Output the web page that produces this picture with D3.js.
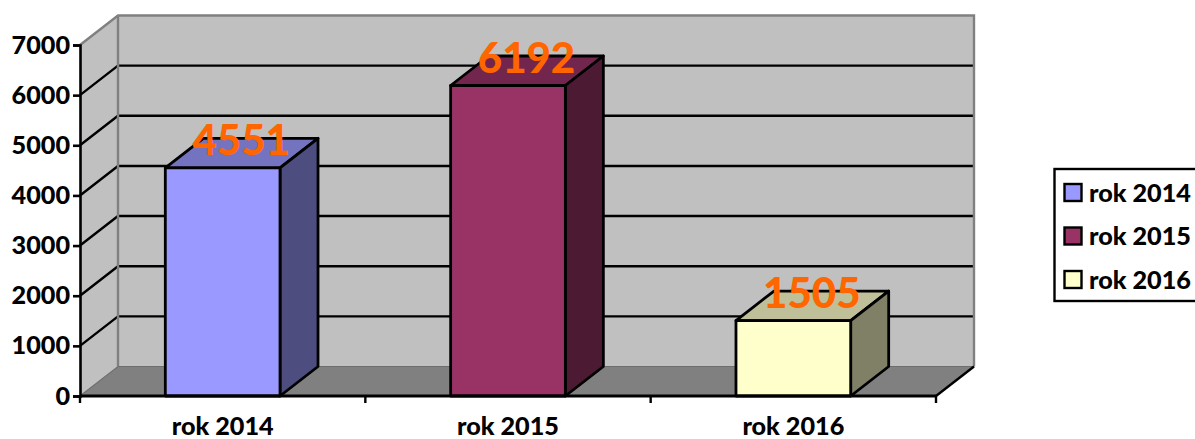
<!DOCTYPE html>
<html><head><meta charset="utf-8">
<script src="https://cdn.jsdelivr.net/npm/d3@7"></script>
<style>html,body{margin:0;padding:0;background:#fff;overflow:hidden}svg{display:block}text{font-family:Lato,sans-serif;font-weight:900}</style>
</head><body>
<svg id="c" width="1195" height="439"></svg>
<script>
const categories = ["rok 2014","rok 2015","rok 2016"];
const values = [4551,6192,1505];
const tickValues = [0,1000,2000,3000,4000,5000,6000,7000];
const faceColors = ["#9999ff","#993366","#ffffcc"];
const topColors = ["#7373bf","#73264d","#bfbf99"];
const sideColors = ["#4d4d80","#4d1a33","#808066"];

const svg = d3.select("#c");
const L=80,R=936,B=396,T=45,dx=38,dy=-29.5;
const x = d3.scaleBand().domain(categories).range([L,R]).paddingInner(0.598).paddingOuter(0.299);
const y = d3.scaleLinear().domain([0,7000]).range([B,T]);
const poly = pts => pts.map(p=>p.join(",")).join(" ");
const FS = 25.2;

// walls and floor
svg.append("polygon").attr("points",poly([[L,B],[L+dx,B+dy],[L+dx,T+dy],[L,T]])).attr("fill","#c0c0c0");
svg.append("polygon").attr("points",poly([[L+dx,B+dy],[R+dx,B+dy],[R+dx,T+dy],[L+dx,T+dy]])).attr("fill","#c0c0c0");
svg.append("polygon").attr("points",poly([[L,B],[R,B],[R+dx,B+dy],[L+dx,B+dy]])).attr("fill","#808080");

// gridlines
const grid = svg.append("g");
tickValues.slice(1,-1).forEach(v=>{
  grid.append("polyline").attr("points",poly([[L,y(v)],[L+dx,y(v)+dy],[R+dx,y(v)+dy]]))
    .attr("fill","none").attr("stroke","#000").attr("stroke-width",2.4);
});
// wall outline
svg.append("polyline").attr("points",poly([[L,T],[L+dx,T+dy],[R+dx,T+dy],[R+dx,B+dy]]))
  .attr("fill","none").attr("stroke","#808080").attr("stroke-width",2.4);
svg.append("line").attr("x1",L+dx).attr("x2",L+dx).attr("y1",T+dy).attr("y2",B+dy).attr("stroke","#808080").attr("stroke-width",2.4);
svg.append("polyline").attr("points",poly([[L,B],[L+dx,B+dy],[R+dx,B+dy]])).attr("fill","none").attr("stroke","#6e6e6e").attr("stroke-width",1.2);
svg.append("line").attr("x1",R).attr("y1",B).attr("x2",R+dx).attr("y2",B+dy).attr("stroke","#000").attr("stroke-width",2.4);

// bars
const bars = svg.append("g").attr("stroke","#000").attr("stroke-width",2.8).attr("stroke-linejoin","round");
categories.forEach((c,i)=>{
  const x0=x(c),x1=x0+x.bandwidth(),yt=y(values[i]);
  bars.append("polygon").attr("points",poly([[x0,yt],[x0+dx,yt+dy],[x1+dx,yt+dy],[x1,yt]])).attr("fill",topColors[i]);
  bars.append("polygon").attr("points",poly([[x1,yt],[x1+dx,yt+dy],[x1+dx,B+dy],[x1,B]])).attr("fill",sideColors[i]);
  bars.append("rect").attr("x",x0).attr("y",yt).attr("width",x.bandwidth()).attr("height",B-yt).attr("fill",faceColors[i]);
});

// axes
const yAxis = d3.axisLeft(y).tickValues(tickValues).tickSize(7).tickPadding(3).tickFormat(d3.format("d"));
const gy = svg.append("g").attr("transform",`translate(${L},0)`).call(yAxis);
gy.selectAll("text").attr("font-size",FS).attr("fill","#000").style("font-family","Lato,sans-serif");
gy.selectAll("path,line").attr("stroke","#000").attr("stroke-width",2.6);

const xAxis = d3.axisBottom(x).tickSize(0).tickPadding(21);
const gx = svg.append("g").attr("transform",`translate(0,${B})`).call(xAxis);
gx.select("path").remove();
gx.selectAll("text").attr("font-size",FS).attr("fill","#000").style("font-family","Lato,sans-serif");
svg.append("line").attr("x1",L).attr("x2",R).attr("y1",B).attr("y2",B).attr("stroke","#000").attr("stroke-width",2.8);
const edges = d3.range(categories.length+1).map(i=>L+i*x.step());
svg.append("g").selectAll("line").data(edges).join("line")
  .attr("x1",d=>d).attr("x2",d=>d).attr("y1",B).attr("y2",B+7).attr("stroke","#000").attr("stroke-width",2.4);

// value labels
svg.append("g").selectAll("text").data(categories).join("text")
  .attr("x",c=>x(c)+x.bandwidth()/2+18.5)
  .attr("y",(c,i)=>y(values[i])-13)
  .attr("text-anchor","middle").attr("font-size",42).attr("fill","#ff6600")
  .text((c,i)=>values[i]);

// legend
const lg = svg.append("g");
lg.append("rect").attr("x",1054.5).attr("y",169).attr("width",160).attr("height",132).attr("fill","#fff").attr("stroke","#000").attr("stroke-width",2.4);
const rowY = d3.scalePoint().domain(categories).range([193,280]);
categories.forEach((c,i)=>{
  lg.append("rect").attr("x",1064.5).attr("y",rowY(c)-9).attr("width",17).attr("height",17).attr("fill",faceColors[i]).attr("stroke","#000").attr("stroke-width",2.4);
  lg.append("text").attr("x",1089).attr("y",rowY(c)+8.5).attr("font-size",FS).attr("fill","#000").text(c);
});
</script>
</body></html>
